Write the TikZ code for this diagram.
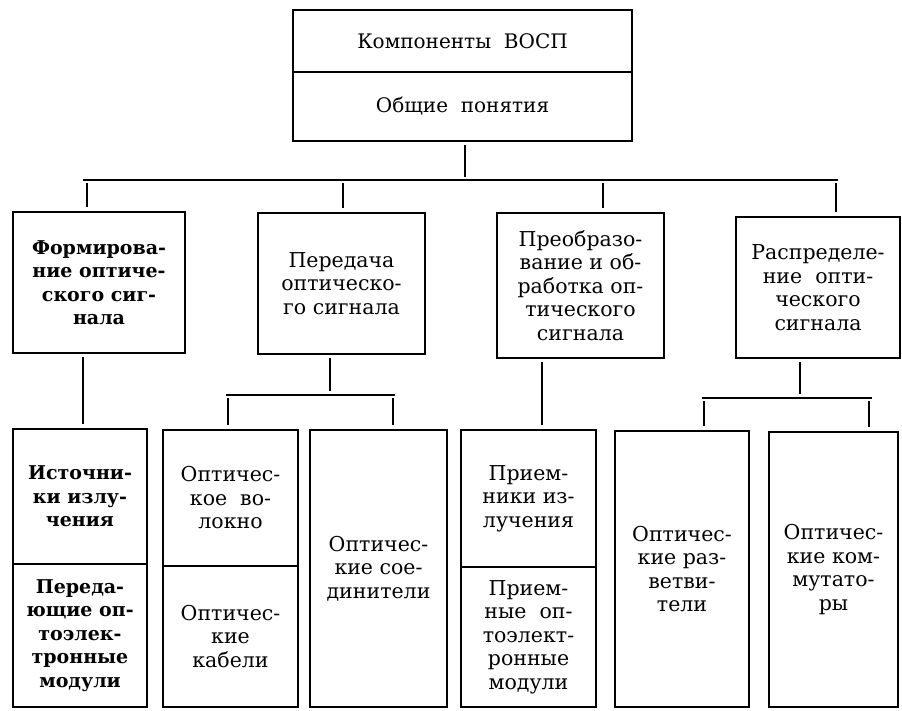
\documentclass[tikz,border=0pt]{standalone}
\usepackage{fontspec}
\setmainfont{DejaVu Serif}
\begin{document}
\begin{tikzpicture}[x=1pt,y=-1pt,
  box/.style={draw, line width=2pt, rectangle, inner sep=0pt, align=center,
    font=\fontsize{20.5}{23.5}\selectfont},
  topbox/.style={box, font=\fontsize{20}{23.5}\selectfont},
  bbox/.style={box, font=\fontsize{19}{23.5}\selectfont\bfseries},
  conn/.style={line width=2pt},
  gap/.style={conn, shorten <=3pt, shorten >=4pt}
]
\useasboundingbox (0,0) rectangle (902,710);
% top
\node[topbox, minimum width=339pt, minimum height=62pt] (k) at (462.5,41) {Компоненты\ \ ВОСП};
\node[topbox, minimum width=339pt, minimum height=69pt] (o) at (462.5,106.5) {Общие\ \ понятия};
% level 2
\node[bbox, minimum width=172pt, minimum height=141pt] (f) at (99,282.5) {Формирова-\\ние оптиче-\\ского сиг-\\нала};
\node[box, minimum width=167pt, minimum height=141pt] (p) at (341.5,283.5) {Передача\\оптическо-\\го сигнала};
\node[box, minimum width=167pt, minimum height=145pt] (pr) at (580.5,285.5) {Преобразо-\\вание и об-\\работка оп-\\тического\\сигнала};
\node[box, minimum width=164pt, minimum height=141pt] (r) at (818,287.5) {Распределе-\\ние\ \ опти-\\ческого\\сигнала};
% level 3
\node[bbox, minimum width=134pt, minimum height=135pt] (ist) at (80,496.5) {Источни-\\ки излу-\\чения};
\node[bbox, minimum width=134pt, minimum height=143pt] (ped) at (80,635.5) {Переда-\\ющие оп-\\тоэлек-\\тронные\\модули};
\node[box, minimum width=135pt, minimum height=136pt] (vol) at (230.5,498) {Оптичес-\\кое\ \ во-\\локно};
\node[box, minimum width=135pt, minimum height=141pt] (kab) at (230.5,636.5) {Оптичес-\\кие\\кабели};
\node[box, minimum width=137pt, minimum height=277pt] (soe) at (378.5,568.5) {Оптичес-\\кие сое-\\динители};
\node[box, minimum width=135pt, minimum height=137pt] (pri) at (528.5,498.5) {Прием-\\ники из-\\лучения};
\node[box, minimum width=135pt, minimum height=140pt] (prm) at (528.5,637) {Прием-\\ные\ \ оп-\\тоэлект-\\ронные\\модули};
\node[box, minimum width=134pt, minimum height=276pt] (raz) at (682,569) {Оптичес-\\кие раз-\\ветви-\\тели};
\node[box, minimum width=129pt, minimum height=275pt] (kom) at (833.5,569.5) {Оптичес-\\кие ком-\\мутато-\\ры};
% connectors: top to level 2
\coordinate (bus) at (465,180);
\coordinate (busL) at (83,180);
\coordinate (busR) at (838,180);
\coordinate (d1) at (87,180);
\coordinate (d2) at (343,180);
\coordinate (d3) at (603,180);
\coordinate (d4) at (836,180);
\draw[gap, shorten >=3pt] (o.south -| bus) -- (bus);
\draw[conn] (busL) -- (busR);
\draw[gap] (d1) -- (d1 |- f.north);
\draw[gap] (d2) -- (d2 |- p.north);
\draw[gap] (d3) -- (d3 |- pr.north);
\draw[gap] (d4) -- (d4 |- r.north);
% level 2 to level 3
\coordinate (c1) at (83,0);
\draw[gap] (c1 |- f.south) -- (c1 |- ist.north);
\coordinate (t2) at (330,395);
\coordinate (t2L) at (226,395);
\coordinate (t2R) at (395,395);
\coordinate (e2L) at (228,395);
\coordinate (e2R) at (393,395);
\draw[gap] (t2 |- p.south) -- (t2);
\draw[conn] (t2L) -- (t2R);
\draw[gap] (e2L) -- (e2L |- vol.north);
\draw[gap] (e2R) -- (e2R |- soe.north);
\coordinate (c3) at (542,0);
\draw[gap] (c3 |- pr.south) -- (c3 |- pri.north);
\coordinate (t4) at (800,398);
\coordinate (t4L) at (702,398);
\coordinate (t4R) at (872,398);
\coordinate (e4L) at (704,398);
\coordinate (e4R) at (869,398);
\draw[gap] (t4 |- r.south) -- (t4);
\draw[conn] (t4L) -- (t4R);
\draw[gap] (e4L) -- (e4L |- raz.north);
\draw[gap] (e4R) -- (e4R |- kom.north);
\end{tikzpicture}
\end{document}
